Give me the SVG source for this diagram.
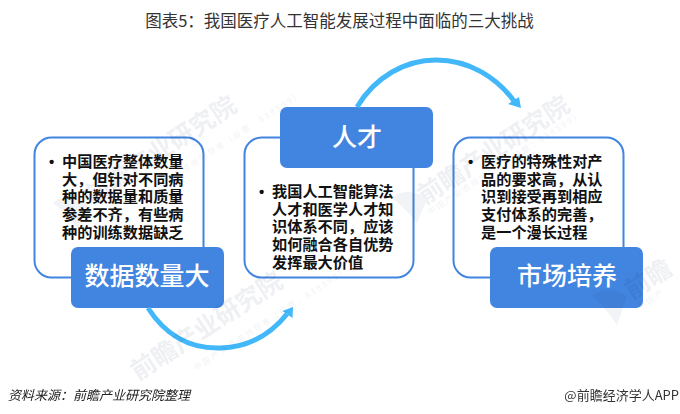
<svg xmlns="http://www.w3.org/2000/svg" width="680" height="414" viewBox="0 0 680 414">
<style>
text{font-family:"Noto Sans CJK SC","Liberation Sans",sans-serif}
.card{fill:#fff;stroke:#4285e0;stroke-width:2}
.tag{fill:#4285e0}
.tagt{fill:#fff;font-size:25px;font-weight:500;text-anchor:middle}
.body{fill:#111;font-size:15.2px;font-weight:700}
.dot{fill:#111;font-size:15px;font-weight:700;font-family:"Liberation Sans",sans-serif}
.arc{fill:none;stroke:#42b8fa;stroke-width:5}
.head{fill:#42b8fa}
#watermarks{mix-blend-mode:multiply}
.wm{font-size:25px;font-weight:700;fill:#eef0f4}
.wms{font-size:8px;letter-spacing:2.200px;fill:#f0f2f5}
.logo{fill:#f1f3f6}
</style>
<rect width="680" height="414" fill="#fff"/>
<text x="339.500" y="27" text-anchor="middle" font-size="16.500" fill="#333">图表5：我国医疗人工智能发展过程中面临的三大挑战</text>
<g id="node-1">
<rect class="card" x="34.500" y="137.500" width="169" height="140" rx="17"/>
<text class="dot" x="49" y="167">•</text>
<text class="body"><tspan x="62" y="167">中国医疗整体数量</tspan><tspan x="62" y="185">大，但针对不同病</tspan><tspan x="62" y="202">种的数据量和质量</tspan><tspan x="62" y="220">参差不齐，有些病</tspan><tspan x="62" y="238">种的训练数据缺乏</tspan></text>
<rect class="tag" x="71" y="247" width="153" height="61" rx="7"/>
<text class="tagt" x="147" y="285">数据数量大</text>
</g>
<g id="node-2">
<rect class="card" x="244.500" y="137.500" width="169" height="140" rx="17"/>
<text class="dot" x="259" y="197">•</text>
<text class="body"><tspan x="272" y="197">我国人工智能算法</tspan><tspan x="272" y="215">人才和医学人才知</tspan><tspan x="272" y="232">识体系不同，应该</tspan><tspan x="272" y="250">如何融合各自优势</tspan><tspan x="272" y="268">发挥最大价值</tspan></text>
<rect class="tag" x="280" y="107" width="153" height="61" rx="7"/>
<text class="tagt" x="357" y="146">人才</text>
</g>
<g id="node-3">
<rect class="card" x="453.500" y="137.500" width="170" height="140" rx="17"/>
<text class="dot" x="468" y="167">•</text>
<text class="body"><tspan x="481" y="167">医疗的特殊性对产</tspan><tspan x="481" y="185">品的要求高，从认</tspan><tspan x="481" y="202">识到接受再到相应</tspan><tspan x="481" y="220">支付体系的完善，</tspan><tspan x="481" y="238">是一个漫长过程</tspan></text>
<rect class="tag" x="490" y="247" width="153" height="61" rx="7"/>
<text class="tagt" x="567" y="285">市场培养</text>
</g>
<g id="connectors">
<path class="arc" d="M148 308C168 339 195 349 221 348C249 347 271 334 287 314"/>
<path class="head" d="M293 307L292.500 318L282.500 311Z"/>
<path class="arc" d="M357 107C375 77 405 60 436 60C470 60 497 78 514 101"/>
<path class="head" d="M521 108L508 104L519 97Z"/>
</g>
<g id="watermarks">
<text class="wm" transform="translate(92 205) rotate(-33)">前瞻产业研究院</text>
<text class="wms" transform="translate(150 195) rotate(-33)">中国产业咨询领导者（股票：839599）</text>
<text class="wm" transform="translate(138 381) rotate(-33)">前瞻产业研究院</text>
<text class="wms" transform="translate(196 371) rotate(-33)">中国产业咨询领导者（股票：839599）</text>
<text class="wm" transform="translate(425 205) rotate(-33)">前瞻产业研究院</text>
<text class="wms" transform="translate(430 215) rotate(-33)">中国产业咨询领导者（股票：839599）</text>
<text class="wm" transform="translate(632 300) rotate(-33)">前瞻</text>
<text class="wms" transform="translate(640 310) rotate(-33)">中国产</text>
<path class="logo" d="M53 203C63 194 78 196 88 204L78 228C70 218 62 210 53 203Z"/>
<path class="logo" d="M392 198C402 189 417 191 427 199L417 223C409 213 401 205 392 198Z"/>
<path class="logo" d="M592 296C602 287 617 289 627 297L617 325C609 313 601 303 592 296Z"/>
</g>
<text x="8" y="400" font-size="13" font-style="italic" fill="#222">资料来源：前瞻产业研究院整理</text>
<text x="679" y="400" text-anchor="end" font-size="13" fill="#333">@前瞻经济学人APP</text>
</svg>
